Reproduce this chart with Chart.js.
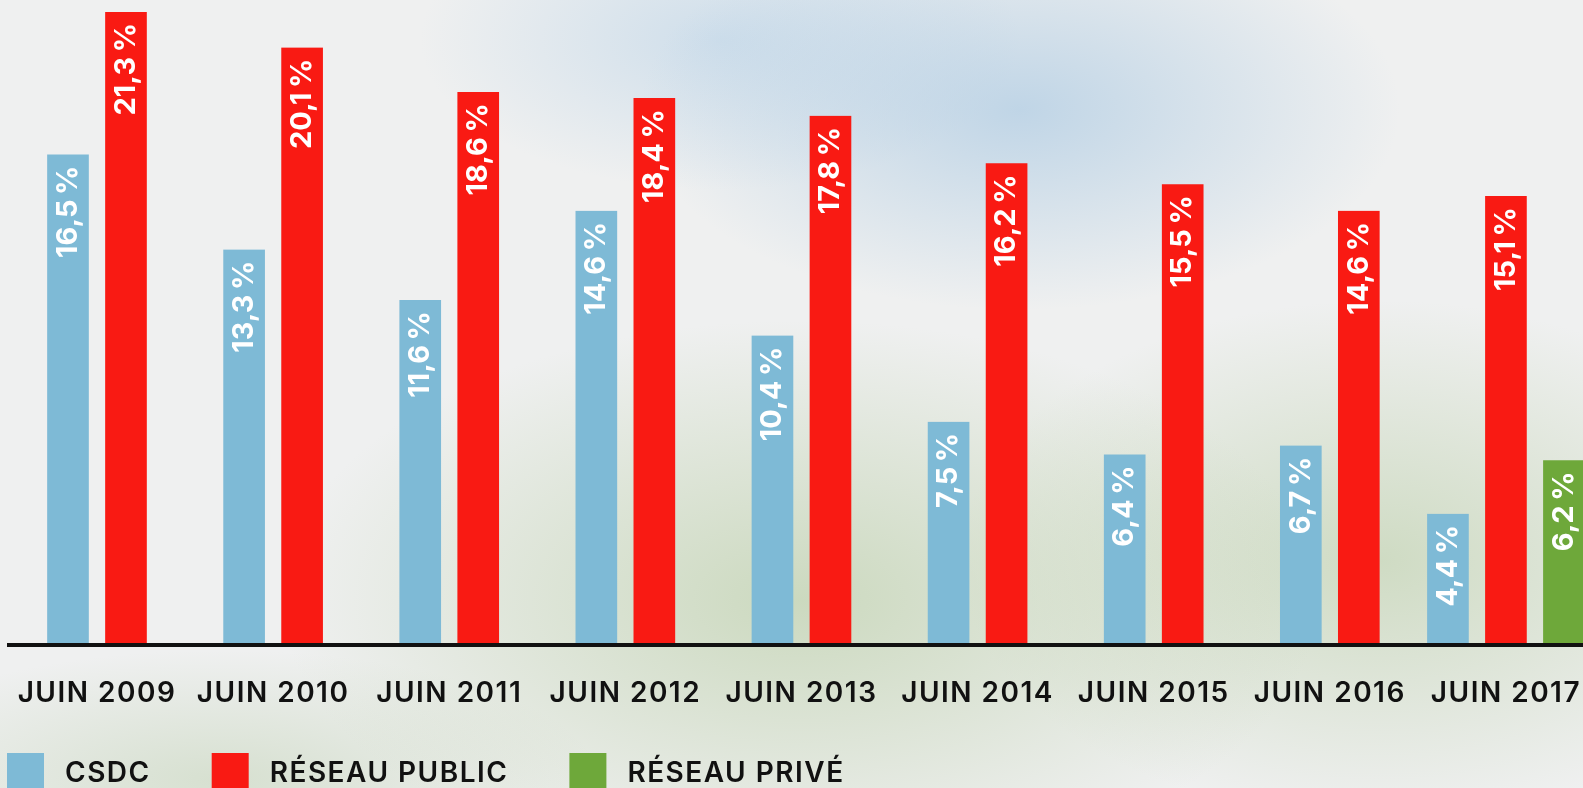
<!DOCTYPE html>
<html>
<head>
<meta charset="utf-8">
<script src="https://cdn.jsdelivr.net/npm/chart.js@4.4.1/dist/chart.umd.min.js"></script>
<style>
html, body { margin: 0; padding: 0; width: 1583px; height: 788px; overflow: hidden; }
body {
  background:
    radial-gradient(ellipse 380px 200px at 1020px 110px, rgba(160,195,224,0.6), rgba(160,195,224,0) 100%),
    radial-gradient(ellipse 300px 150px at 720px 40px, rgba(175,205,230,0.5), rgba(175,205,230,0) 100%),
    radial-gradient(ellipse 520px 280px at 800px 600px, rgba(180,202,158,0.6), rgba(180,202,158,0) 100%),
    radial-gradient(ellipse 420px 260px at 1380px 560px, rgba(180,202,158,0.55), rgba(180,202,158,0) 100%),
    radial-gradient(ellipse 380px 130px at 220px 780px, rgba(190,208,176,0.5), rgba(190,208,176,0) 100%),
    #eff0f0;
}
canvas { display: block; }
</style>
</head>
<body>
<canvas id="chart" width="1600" height="800"></canvas>
<script>
// ---- data ----
const categories = ['JUIN 2009', 'JUIN 2010', 'JUIN 2011', 'JUIN 2012', 'JUIN 2013', 'JUIN 2014', 'JUIN 2015', 'JUIN 2016', 'JUIN 2017'];
const seriesNames = ['CSDC', 'RÉSEAU PUBLIC', 'RÉSEAU PRIVÉ'];
const csdcValues   = [16.5, 13.3, 11.6, 14.6, 10.4, 7.5, 6.4, 6.7, 4.4];
const publicValues = [21.3, 20.1, 18.6, 18.4, 17.8, 16.2, 15.5, 14.6, 15.1];
const priveValues  = [null, null, null, null, null, null, null, null, 6.2];
const yMin = 0;
const yMax = 21.7;

// ---- styles ----
const colors = ['#7ebad6', '#f91a13', '#6ea83a'];
const tickFont = { family: 'Inter', size: 28, weight: '600' };
const labelFont = '700 29px Inter';

function fmtValue(v) {
  return v.toFixed(1).replace('.', ',') + '\u2009%';
}

const letterSpacing = {
  id: 'letterSpacing',
  beforeDraw(chart) { chart.ctx.letterSpacing = '1.5px'; },
  beforeDatasetsDraw(chart) { chart.ctx.letterSpacing = '0px'; }
};

const valueLabels = {
  id: 'valueLabels',
  afterDatasetsDraw(chart) {
    const ctx = chart.ctx;
    ctx.save();
    ctx.font = labelFont;
    ctx.fillStyle = '#ffffff';
    chart.data.datasets.forEach((ds, di) => {
      const meta = chart.getDatasetMeta(di);
      meta.data.forEach((bar, i) => {
        const v = ds.data[i];
        if (v === null || v === undefined) return;
        ctx.save();
        ctx.translate(bar.x, bar.y + 11);
        ctx.rotate(-Math.PI / 2);
        ctx.textAlign = 'right';
        ctx.textBaseline = 'middle';
        ctx.fillText(fmtValue(v), 0, 0);
        ctx.restore();
      });
    });
    ctx.restore();
  }
};

const bottomLegend = {
  id: 'bottomLegend',
  afterDraw(chart, args, opts) {
    const ctx = chart.ctx;
    ctx.save();
    ctx.font = opts.font;
    ctx.letterSpacing = opts.letterSpacing;
    ctx.textBaseline = 'middle';
    ctx.textAlign = 'left';
    let x = opts.x;
    chart.data.datasets.forEach(ds => {
      ctx.fillStyle = ds.backgroundColor;
      ctx.fillRect(x, opts.boxY, opts.boxW, opts.boxH);
      ctx.fillStyle = opts.color;
      const tx = x + opts.boxW + opts.gap;
      ctx.fillText(ds.label, tx, opts.textY);
      x = tx + ctx.measureText(ds.label).width + opts.spacing;
    });
    ctx.restore();
  }
};

const barStyle = {
  barThickness: 58,
  borderWidth: { left: 8.5, right: 8.5, top: 0, bottom: 0 },
  borderColor: 'rgba(0,0,0,0)',
  skipNull: true
};

new Chart(document.getElementById('chart'), {
  type: 'bar',
  data: {
    labels: categories,
    datasets: [
      Object.assign({ label: seriesNames[0], data: csdcValues, backgroundColor: colors[0] }, barStyle),
      Object.assign({ label: seriesNames[1], data: publicValues, backgroundColor: colors[1] }, barStyle),
      Object.assign({ label: seriesNames[2], data: priveValues, backgroundColor: colors[2] }, barStyle)
    ]
  },
  options: {
    responsive: false,
    animation: false,
    events: [],
    layout: { padding: { left: 7, right: 6, top: 0, bottom: 0 } },
    plugins: {
      legend: { display: false },
      tooltip: { enabled: false },
      bottomLegend: {
        x: 7, boxY: 753, boxW: 37, boxH: 40, gap: 21, spacing: 61,
        textY: 774, font: '600 28px Inter', color: '#111111', letterSpacing: '1.5px'
      }
    },
    scales: {
      x: {
        grid: { display: false },
        border: { display: true, color: '#111111', width: 4, z: 1 },
        ticks: { color: '#111111', font: tickFont, padding: 24, maxRotation: 0, autoSkip: false },
        afterFit(scale) { scale.height = 800 - 644.5; }
      },
      y: {
        display: false,
        min: yMin,
        max: yMax
      }
    }
  },
  plugins: [letterSpacing, valueLabels, bottomLegend]
});
</script>
</body>
</html>
